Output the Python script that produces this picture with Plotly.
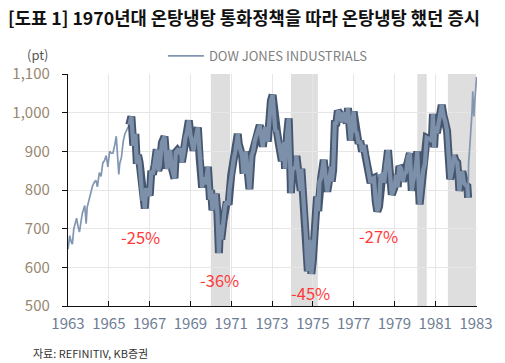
import plotly.graph_objects as go

# ---------------- data ----------------
pre_dates = ["1963-01-02","1963-02-01","1963-03-01","1963-03-20","1963-04-15","1963-05-15","1963-06-04",
             "1963-07-01","1963-07-25","1963-08-15","1963-09-15","1963-10-28","1963-11-22","1963-12-10",
             "1964-01-15","1964-02-15","1964-03-15","1964-04-15","1964-05-15","1964-06-10","1964-07-15",
             "1964-08-15","1964-09-15","1964-10-15","1964-11-15","1964-12-15","1965-01-15","1965-02-15",
             "1965-03-15","1965-04-15","1965-05-14","1965-06-28","1965-07-15","1965-08-15","1965-09-15",
             "1965-10-15","1965-11-15","1965-12-15","1966-01-03"]
pre_values = [647,682,665,660,700,722,727,
              705,691,712,740,760,713,755,
              775,795,810,820,825,808,845,
              835,870,876,889,860,900,895,
              895,915,939,840,868,885,925,
              945,955,965,969]

main_dates = ["1966-01-03","1966-02-09","1966-03-15","1966-04-21","1966-05-17","1966-06-08","1966-07-05",
              "1966-08-29","1966-09-15","1966-10-07","1966-11-01","1966-12-01",
              "1967-01-03","1967-02-01","1967-03-01","1967-04-01","1967-05-08","1967-06-05","1967-07-01",
              "1967-08-09","1967-09-25","1967-11-08","1967-12-01",
              "1968-01-02","1968-02-01","1968-03-21","1968-04-15","1968-05-15","1968-06-15","1968-07-15",
              "1968-08-01","1968-09-01","1968-10-01","1968-11-01","1968-12-03",
              "1969-01-01","1969-02-26","1969-03-15","1969-05-14","1969-06-15","1969-07-29","1969-08-15",
              "1969-09-30","1969-11-10","1969-12-17",
              "1970-01-05","1970-01-30","1970-02-15","1970-03-15","1970-04-01","1970-04-30","1970-05-26",
              "1970-06-15","1970-07-07","1970-08-15","1970-09-15","1970-10-15","1970-11-15","1970-12-01",
              "1971-01-01","1971-02-15","1971-03-15","1971-04-28","1971-05-15","1971-06-15","1971-07-15",
              "1971-08-10","1971-08-31","1971-09-15","1971-10-15","1971-11-23","1971-12-31",
              "1972-01-31","1972-02-28","1972-03-31","1972-04-30","1972-05-26","1972-06-30","1972-07-20",
              "1972-08-31","1972-09-30","1972-10-16","1972-11-14","1972-12-11",
              "1973-01-11","1973-02-28","1973-03-30","1973-04-30","1973-05-30","1973-06-25","1973-07-31",
              "1973-08-22","1973-09-28","1973-10-26","1973-11-30","1973-12-05","1973-12-31",
              "1974-01-31","1974-02-28","1974-03-13","1974-04-30","1974-05-29","1974-06-10","1974-07-31",
              "1974-08-30","1974-09-13","1974-10-04","1974-11-05","1974-11-29","1974-12-06","1974-12-31",
              "1975-01-31","1975-02-28","1975-03-17","1975-04-07","1975-04-30","1975-05-30","1975-07-15",
              "1975-09-16","1975-10-31","1975-11-28","1975-12-05","1975-12-31",
              "1976-01-30","1976-02-27","1976-03-24","1976-04-30","1976-05-28","1976-06-30","1976-07-30",
              "1976-08-31","1976-09-21","1976-10-29","1976-11-10","1976-12-31",
              "1977-01-31","1977-02-28","1977-03-31","1977-04-29","1977-05-31","1977-06-30","1977-07-29",
              "1977-08-31","1977-09-30","1977-10-31","1977-11-30","1977-12-30",
              "1978-01-31","1978-02-28","1978-03-31","1978-04-28","1978-05-31","1978-06-30","1978-07-31",
              "1978-09-08","1978-09-29","1978-10-31","1978-11-14","1978-12-29",
              "1979-01-31","1979-02-28","1979-03-30","1979-04-30","1979-05-31","1979-06-29","1979-07-31",
              "1979-08-31","1979-10-05","1979-10-31","1979-11-07","1979-11-30","1979-12-31",
              "1980-01-31","1980-02-13","1980-03-27","1980-04-30","1980-05-30","1980-06-30","1980-07-31",
              "1980-08-29","1980-09-30","1980-10-31","1980-11-20","1980-12-11","1980-12-31",
              "1981-01-30","1981-02-27","1981-03-31","1981-04-27","1981-05-29","1981-06-30","1981-07-31",
              "1981-08-31","1981-09-25","1981-10-30","1981-11-30","1981-12-31",
              "1982-01-29","1982-02-26","1982-03-08","1982-04-30","1982-05-28","1982-06-30","1982-07-30",
              "1982-08-12"]
main_values = [969,990,915,945,868,890,872,
               772,790,752,805,790,
               786,850,840,865,905,850,862,
               922,938,855,878,
               903,858,830,898,903,898,908,
               872,896,934,950,980,
               944,902,920,962,882,806,832,
               815,860,775,
               800,748,772,790,790,738,637,
               710,672,720,760,770,762,800,
               839,880,900,945,920,900,888,
               842,896,900,860,802,888,
               902,928,940,954,968,929,912,
               962,953,925,1000,1030,
               1046,955,951,921,895,875,924,
               855,945,985,826,792,851,
               856,861,888,838,798,855,760,
               682,630,590,672,620,583,616,
               704,739,783,745,821,832,878,
               796,836,860,822,852,
               972,973,1005,997,975,1000,985,
               974,1012,965,928,1003,
               954,947,920,927,899,916,890,
               862,847,818,829,831,
               770,745,757,837,840,819,862,
               903,866,795,788,805,
               839,808,862,855,822,842,846,
               885,895,816,798,822,839,
               876,900,763,817,851,868,935,
               933,932,925,997,910,964,
               947,975,1004,1020,992,977,953,
               882,828,853,889,875,
               871,826,798,848,820,812,809,
               780]

post_dates = ["1982-08-12","1982-08-20","1982-09-10","1982-10-07","1982-10-20","1982-11-03","1982-11-23",
              "1982-12-10","1982-12-27","1983-01-10"]
post_values = [780,869,910,965,1000,1055,990,1030,1070,1092]

recessions = [("1970-01-01","1970-12-10"),("1973-12-05","1975-04-01"),
              ("1980-02-15","1980-08-01"),("1981-08-15","1983-01-01")]

drawdowns = [("1966-07-15",678,"-25%"),("1970-06-03",566,"-36%"),
             ("1974-11-25",533,"-45%"),("1978-03-28",682,"-27%")]

series_name = "DOW JONES INDUSTRIALS"

# ---------------- figure ----------------
THIN = "#8296b2"
DARK = "#46566f"
LIGHT = "#7d90aa"
FONT = "Noto Sans CJK KR"

fig = go.Figure()
fig.add_trace(go.Scatter(x=pre_dates, y=pre_values, mode="lines", name=series_name,
                         line=dict(color=THIN, width=1.7), showlegend=True))
fig.add_trace(go.Scatter(x=main_dates, y=main_values, mode="lines", showlegend=False,
                         line=dict(color=DARK, width=8), hoverinfo="skip"))
fig.add_trace(go.Scatter(x=main_dates, y=main_values, mode="lines", showlegend=False,
                         line=dict(color=LIGHT, width=4.2), name=series_name))
fig.add_trace(go.Scatter(x=post_dates, y=post_values, mode="lines", showlegend=False,
                         line=dict(color=THIN, width=1.7), name=series_name))

for x0, x1 in recessions:
    fig.add_shape(type="rect", xref="x", yref="paper", x0=x0, x1=x1, y0=0, y1=1,
                  fillcolor="#dedede", line=dict(width=0), layer="below")

for d, v, t in drawdowns:
    fig.add_annotation(x=d, y=v, text=t, showarrow=False,
                       font=dict(family=FONT, size=16.5, color="#ff3a3a"))

fig.add_annotation(xref="paper", yref="paper", x=-0.042, y=1.086, xanchor="right", yanchor="middle",
                   text="(pt)", showarrow=False, font=dict(family=FONT, size=13, color="#555555"))
fig.add_annotation(xref="paper", yref="paper", x=-0.09, y=-0.203, xanchor="left", yanchor="middle",
                   text="자료: REFINITIV, KB증권", showarrow=False,
                   font=dict(family=FONT, size=11, color="#333333"))

fig.update_layout(
    width=505, height=363,
    margin=dict(l=57.5, r=27.3, t=74, b=57.3),
    paper_bgcolor="white", plot_bgcolor="white",
    font=dict(family=FONT),
    title=dict(text="<b>[도표 1] 1970년대 온탕냉탕 통화정책을 따라 온탕냉탕 했던 증시</b>",
               xref="container", yref="container", x=8/505, xanchor="left",
               y=1-19/363, yanchor="middle",
               font=dict(family=FONT, size=17.7, color="#111111")),
    legend=dict(orientation="h", x=0.232, xanchor="left", y=1.078, yanchor="middle",
                itemwidth=36,
                font=dict(family=FONT, size=13, color="#7f7f7f"),
                bgcolor="rgba(0,0,0,0)", borderwidth=0),
    showlegend=True,
)

fig.update_xaxes(type="date", range=["1963-01-01","1983-01-18"],
                 tick0="1963-01-01", dtick="M24", tickformat="%Y",
                 showgrid=True, gridcolor="#e6e6e6", gridwidth=1,
                 showline=True, linecolor="#111111", linewidth=1.4,
                 ticks="inside", ticklen=5, tickcolor="#111111",
                 tickfont=dict(family=FONT, size=15, color="#6e7d94"),
                 ticklabelstandoff=4, zeroline=False)
fig.update_yaxes(range=[500,1100], tick0=500, dtick=100, tickformat=",",
                 showgrid=True, gridcolor="#e6e6e6", gridwidth=1,
                 showline=True, linecolor="#111111", linewidth=1.4,
                 ticks="outside", ticklen=5, tickcolor="#111111",
                 tickfont=dict(family=FONT, size=15, color="#97876f"),
                 ticklabelstandoff=9, zeroline=False)

fig.write_html("out.html", config={"displayModeBar": False},
               post_script="document.body.style.margin='0px';")
